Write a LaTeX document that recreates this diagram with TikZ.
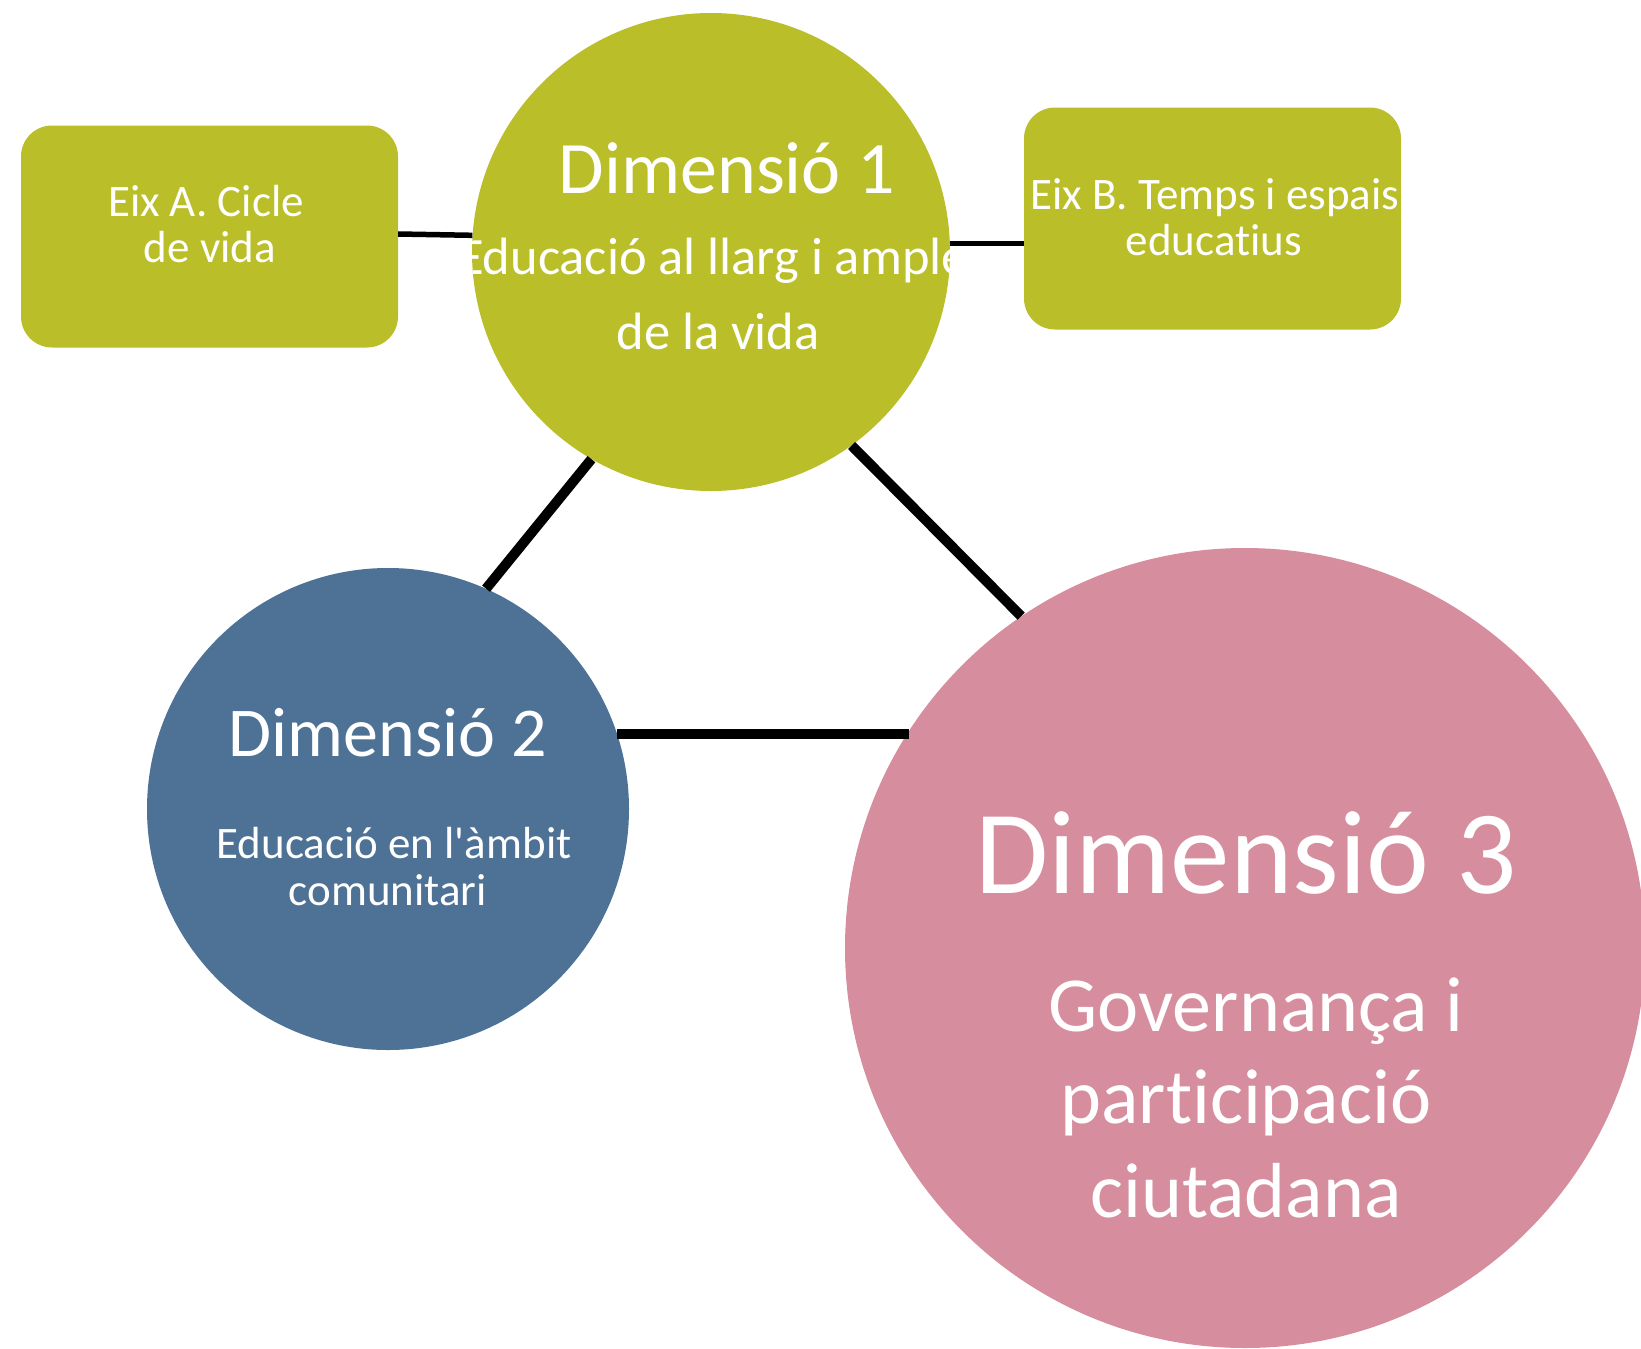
\documentclass[tikz,border=0pt]{standalone}
\usepackage{fontspec}
\setmainfont{Carlito}[Ligatures={TeXOff,NoCommon}]
\usetikzlibrary{positioning,calc}

\definecolor{dimolive}{RGB}{185,190,41}
\definecolor{dimblue}{RGB}{77,114,150}
\definecolor{dimpink}{RGB}{214,142,158}

\newcommand{\dimfont}{\fontsize{74}{88}\selectfont}
\newcommand{\dimtwofont}{\fontsize{70}{84}\selectfont}
\newcommand{\bigdimfont}{\fontsize{119}{140}\selectfont}
\newcommand{\govfont}{\fontsize{78}{92}\selectfont}
\newcommand{\subfont}{\fontsize{52.5}{62}\selectfont}
\newcommand{\eixfont}{\fontsize{45}{54}\selectfont}

\tikzset{
  dimcircle/.style={circle, inner sep=0pt, minimum size=#1, draw=none},
  eixbox/.style={rectangle, rounded corners=31pt, minimum width=377pt, minimum height=222pt, fill=dimolive, draw=none},
  link/.style={line width=10pt, black},
  thinlink/.style={line width=5.5pt, black},
  txt/.style={text=white, anchor=base, inner sep=0pt}
}

\begin{document}
\begin{tikzpicture}[x=1pt,y=-1pt]
\useasboundingbox (0,0) rectangle (1641,1349);

% connectors first, then shapes on top
\coordinate (c1) at (711,252);
\coordinate (c2) at (388,809);
\coordinate (c3) at (1245,948);

% circles and boxes
\node [dimcircle=478pt, fill=dimolive] (dim1) at (c1) {};
\node [dimcircle=482pt, fill=dimblue] (dim2) at (c2) {};
\node [dimcircle=800pt, fill=dimpink] (dim3) at (c3) {};
\node [eixbox] (eixA) at (209.5,236.5) {};
\node [eixbox] (eixB) at (1212.5,218.5) {};

% connectors
\draw [link] (dim1.240) -- (dim2.66);
\draw [link] (dim1.306) -- (dim3.124.6);
\draw [link] (dim2.18.5) -- (dim2.18.5 -| dim3.147.5);
\draw [thinlink] (eixA.east |- 0,234) -- (dim1.176);
\draw [thinlink] (dim1.2) -- (dim1.2 -| eixB.west);

% dimensio 1
\node [txt, font=\dimfont] (d1title) at (727,193) {Dimensió 1};
\begin{scope}
  \clip (dim1.center) circle [radius=239pt];
  \node [txt, font=\subfont] (d1line1) at (713,274) {Educació al llarg i ample};
\end{scope}
\node [txt, font=\subfont] (d1line2) at (718,349) {de la vida};

% dimensio 2
\node [txt, font=\dimtwofont] (d2title) at (388,756) {Dimensió 2};
\node [txt, font=\eixfont] (d2line1) at (394,858) {Educació en l'àmbit};
\node [txt, font=\eixfont] (d2line2) at (388,905) {comunitari};

% dimensio 3
\node [txt, font=\bigdimfont] (d3title) at (1246,893) {Dimensió 3};
\node [txt, font=\govfont] (d3line1) at (1256,1031) {Governança i};
\node [txt, font=\govfont] (d3line2) at (1246,1123) {participació};
\node [txt, font=\govfont] (d3line3) at (1246,1217) {ciutadana};

% eixos
\node [txt, font=\eixfont] (eixAline1) at (206,216) {Eix A. Cicle};
\node [txt, font=\eixfont] (eixAline2) at (210,262) {de vida};
\node [txt, font=\eixfont] (eixBline1) at (1215,209) {Eix B. Temps i espais};
\node [txt, font=\eixfont] (eixBline2) at (1214,255) {educatius};
\end{tikzpicture}
\end{document}
